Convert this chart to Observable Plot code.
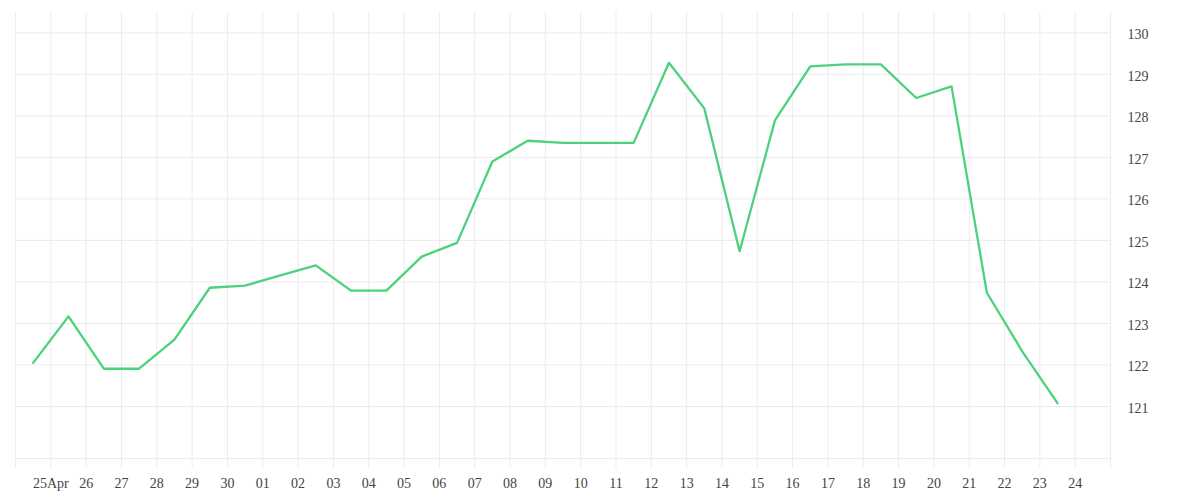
<!DOCTYPE html>
<html>
<head>
<meta charset="utf-8">
<script src="https://cdn.jsdelivr.net/npm/d3@7"></script>
<script src="https://cdn.jsdelivr.net/npm/@observablehq/plot@0.6"></script>
<style>
  html, body { margin: 0; padding: 0; background: #fff; }
</style>
</head>
<body>
<div id="chart"></div>
<script>
// Daily values (plotted at mid-day)
const dates = [
  "2023-04-24","2023-04-25","2023-04-26","2023-04-27","2023-04-28","2023-04-29",
  "2023-04-30","2023-05-01","2023-05-02","2023-05-03","2023-05-04","2023-05-05",
  "2023-05-06","2023-05-07","2023-05-08","2023-05-09","2023-05-10","2023-05-11",
  "2023-05-12","2023-05-13","2023-05-14","2023-05-15","2023-05-16","2023-05-17",
  "2023-05-18","2023-05-19","2023-05-20","2023-05-21","2023-05-22","2023-05-23"
];
const values = [
  122.05, 123.17, 121.91, 121.91, 122.61, 123.86,
  123.91, 124.16, 124.40, 123.79, 123.79, 124.61,
  124.94, 126.90, 127.40, 127.35, 127.35, 127.35,
  129.28, 128.18, 124.74, 127.89, 129.19, 129.24,
  129.24, 128.43, 128.71, 123.74, 122.33, 121.08
];
// X tick labels (day boundaries 25 Apr .. 24 May)
const tickLabels = ["25Apr","26","27","28","29","30","01","02","03","04","05","06","07","08","09","10",
  "11","12","13","14","15","16","17","18","19","20","21","22","23","24"];
const firstTick = "2023-04-25";
const yTicks = [121,122,123,124,125,126,127,128,129,130];

const xStart = new Date("2023-04-24T00:00:00Z");
const xEnd = new Date("2023-05-25T00:00:00Z");

const data = dates.map((d, i) => ({
  date: new Date(d + "T12:00:00Z"),
  value: values[i]
}));

const tickDates = tickLabels.map((_, i) => d3.utcDay.offset(new Date(firstTick + "T00:00:00Z"), i));
const labelMap = new Map(tickDates.map((d, i) => [+d, tickLabels[i]]));
const gridDays = d3.utcDay.range(xStart, d3.utcDay.offset(xEnd, 1));

const gridColor = "#ececec";

const chart = Plot.plot({
  width: 1200,
  height: 500,
  marginLeft: 15,
  marginRight: 90,
  marginTop: 12,
  marginBottom: 42,
  style: { fontFamily: "'Liberation Serif', serif", fontSize: "14px", color: "#444", background: "#fff" },
  x: { type: "utc", domain: [xStart, xEnd] },
  y: { domain: [119.748, 130.489] },
  marks: [
    Plot.ruleY(yTicks, { stroke: gridColor, strokeWidth: 1 }),
    Plot.ruleX(gridDays, { stroke: gridColor, strokeWidth: 1 }),
    Plot.frame({ anchor: "bottom", stroke: gridColor }),
    Plot.axisX({
      ticks: gridDays,
      tickSize: 10,
      tickPadding: 10,
      stroke: gridColor,
      strokeOpacity: 1,
      tickFormat: d => labelMap.get(+d) ?? "",
      label: null,
      fill: "#444"
    }),
    Plot.axisY({
      anchor: "right",
      ticks: yTicks,
      tickSize: 0,
      tickPadding: 17,
      dy: 2,
      label: null,
      fill: "#444"
    }),
    Plot.line(data, { x: "date", y: "value", stroke: "#4cd27c", strokeWidth: 2.3 })
  ]
});
document.getElementById("chart").appendChild(chart);
</script>
</body>
</html>
